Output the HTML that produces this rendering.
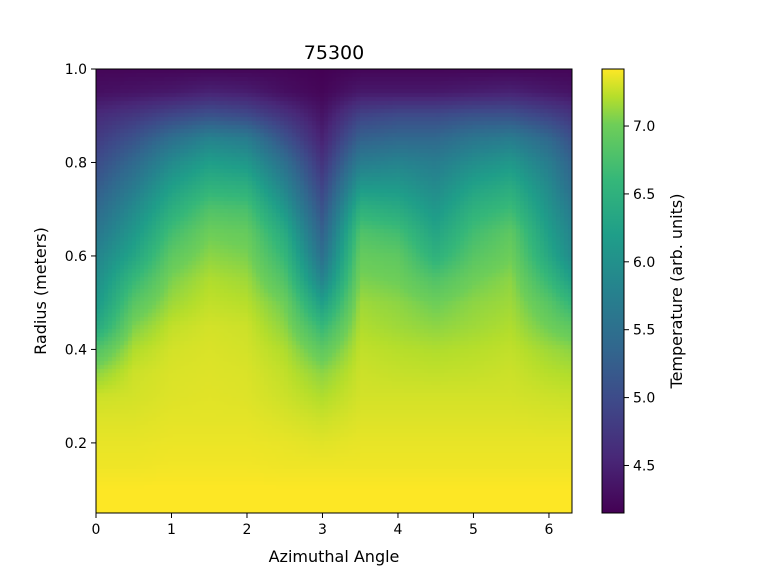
<!DOCTYPE html>
<html><head><meta charset="utf-8"><style>
body{margin:0;background:#fff;}
#wrap{position:relative;width:768px;height:576px;overflow:hidden;font-family:"DejaVu Sans","Liberation Sans",sans-serif;}
#heat{position:absolute;left:96px;top:69px;}
svg{position:absolute;left:0;top:0;}
text{font-family:"DejaVu Sans","Liberation Sans",sans-serif;font-size:14px;fill:#000;}
.big{font-size:16px;}
</style></head><body>
<div id="wrap">
<canvas id="heat" width="476" height="444"></canvas>
<svg width="768" height="576" id="svg">
<defs><linearGradient id="vir" x1="0" y1="1" x2="0" y2="0">
<stop offset="0" stop-color="#440154"/><stop offset="0.125" stop-color="#482878"/><stop offset="0.25" stop-color="#3e4989"/><stop offset="0.375" stop-color="#31688e"/><stop offset="0.5" stop-color="#26828e"/><stop offset="0.625" stop-color="#1f9e89"/><stop offset="0.75" stop-color="#35b779"/><stop offset="0.875" stop-color="#6ece58"/><stop offset="0.9375" stop-color="#b5de2b"/><stop offset="1" stop-color="#fde725"/>
</linearGradient></defs>
<text x="334" y="59" text-anchor="middle" style="font-size:19px">75300</text>
<rect x="96" y="69" width="476" height="444" fill="none" stroke="#000" stroke-width="1"/>
<g id="xt"></g><g id="yt"></g>
<text class="big" x="334" y="562" text-anchor="middle">Azimuthal Angle</text>
<text class="big" transform="translate(46,291) rotate(-90)" text-anchor="middle">Radius (meters)</text>
<rect x="602" y="69" width="22" height="444" fill="url(#vir)" stroke="#000" stroke-width="1"/>
<g id="ct"></g>
<text class="big" transform="translate(682,291) rotate(-90)" text-anchor="middle">Temperature (arb. units)</text>
</svg>
</div>
<script>
const angles=[0,0.5,1.0,1.5,2.0,2.5,3.0,3.5,4.0,4.5,5.0,5.5,6.0,6.28];
const radii=[1.0,0.95,0.9,0.85,0.8,0.75,0.7,0.65,0.6,0.55,0.5,0.45,0.4,0.35,0.3,0.25,0.2,0.15,0.1,0.05];
const temps=[
[4.2,4.3,4.6,4.8,5.0,5.2,5.4,5.6,5.8,5.95,6.1,6.35,6.8,7.1,7.28,7.33,7.36,7.38,7.42,7.42],
[4.2,4.35,4.75,5.1,5.4,5.65,5.9,6.1,6.3,6.6,6.85,7.05,7.2,7.28,7.3,7.33,7.36,7.38,7.42,7.42],
[4.2,4.4,4.95,5.5,5.9,6.2,6.45,6.7,6.9,7.05,7.15,7.25,7.3,7.32,7.33,7.35,7.37,7.39,7.42,7.42],
[4.2,4.5,5.1,5.8,6.2,6.5,6.8,7.0,7.1,7.2,7.25,7.3,7.32,7.33,7.34,7.35,7.37,7.39,7.42,7.42],
[4.2,4.45,5.0,5.7,6.1,6.45,6.75,6.95,7.05,7.15,7.22,7.28,7.3,7.32,7.33,7.35,7.37,7.39,7.42,7.42],
[4.2,4.3,4.7,5.1,5.5,5.8,6.1,6.4,6.6,6.8,7.0,7.1,7.2,7.25,7.28,7.32,7.36,7.38,7.42,7.42],
[4.15,4.2,4.35,4.5,4.7,4.9,5.1,5.3,5.5,5.8,6.2,6.6,6.9,7.1,7.2,7.28,7.34,7.38,7.42,7.42],
[4.2,4.4,4.9,5.3,5.7,6.1,6.5,6.8,6.95,7.05,7.15,7.2,7.25,7.28,7.3,7.33,7.36,7.38,7.42,7.42],
[4.2,4.4,5.0,5.4,5.8,6.1,6.4,6.7,6.9,7.0,7.1,7.15,7.22,7.26,7.3,7.33,7.36,7.38,7.42,7.42],
[4.2,4.4,5.0,5.4,5.7,5.9,6.1,6.3,6.5,6.8,7.0,7.1,7.2,7.25,7.3,7.33,7.36,7.38,7.42,7.42],
[4.2,4.45,5.1,5.6,5.95,6.25,6.5,6.7,6.85,7.0,7.1,7.15,7.22,7.26,7.3,7.33,7.36,7.38,7.42,7.42],
[4.2,4.5,5.1,5.7,6.1,6.4,6.65,6.9,7.0,7.1,7.15,7.2,7.25,7.28,7.3,7.33,7.36,7.38,7.42,7.42],
[4.2,4.4,4.9,5.4,5.7,5.9,6.05,6.2,6.35,6.6,6.85,7.0,7.15,7.22,7.28,7.32,7.36,7.38,7.42,7.42],
[4.2,4.35,4.75,5.1,5.35,5.5,5.7,5.85,5.95,6.25,6.6,6.9,7.1,7.2,7.27,7.32,7.36,7.38,7.42,7.42]];
const xTicks=[0,1,2,3,4,5,6];
const yTicks=[0.2,0.4,0.6,0.8,1.0];
const cTicks=[4.5,5.0,5.5,6.0,6.5,7.0];
const vmin=4.15,vmax=7.42;

const X0=96,X1=571.6,XMAX=6.3,Y0=69,Y1=513,RMIN=0.05,RMAX=1.0;
const xs=v=>X0+v/XMAX*(X1-X0);
const ys=v=>Y1-(v-RMIN)/(RMAX-RMIN)*(Y1-Y0);
const cs=v=>513-(v-vmin)/(vmax-vmin)*444;
const stops=[[0,68,1,84],[0.125,72,40,120],[0.25,62,73,137],[0.375,49,104,142],[0.5,38,130,142],[0.625,31,158,137],[0.75,53,183,121],[0.875,110,206,88],[0.9375,181,222,43],[1,253,231,37]];
function vir(t){t=Math.max(0,Math.min(1,t));for(let i=1;i<stops.length;i++){if(t<=stops[i][0]){const a=stops[i-1],b=stops[i],f=(t-a[0])/(b[0]-a[0]);return [0,1,2].map(k=>Math.round(a[k+1]+f*(b[k+1]-a[k+1])));}}return [253,231,37];}
function interp(arr,v){for(let i=1;i<arr.length;i++){const a=arr[i-1],b=arr[i];if((v-a)*(v-b)<=0){return i-1+(v-a)/(b-a);}}return v<arr[0]===(arr[0]<arr[1])?0:arr.length-1;}
function val(th,r){const fi=interp(angles,th),fj=interp(radii,r);const i=Math.min(Math.floor(fi),angles.length-2),j=Math.min(Math.floor(fj),radii.length-2);const u=fi-i,w=fj-j;return (1-u)*(1-w)*temps[i][j]+u*(1-w)*temps[i+1][j]+(1-u)*w*temps[i][j+1]+u*w*temps[i+1][j+1];}
const cv=document.getElementById('heat'),ctx=cv.getContext('2d');
const B=4;
for(let px=0;px<476;px+=B){for(let py=0;py<444;py+=B){
const th=Math.min(6.28,(px+B/2)/(X1-X0)*XMAX);const r=RMAX-(py+B/2)/(Y1-Y0)*(RMAX-RMIN);
const c=vir((val(th,r)-vmin)/(vmax-vmin));ctx.fillStyle=`rgb(${c[0]},${c[1]},${c[2]})`;ctx.fillRect(px,py,B,B);}}
const NS='http://www.w3.org/2000/svg';
function mk(tag,attrs,parent,txt){const e=document.createElementNS(NS,tag);for(const k in attrs)e.setAttribute(k,attrs[k]);if(txt!==undefined)e.textContent=txt;parent.appendChild(e);return e;}
const xt=document.getElementById('xt'),yt=document.getElementById('yt'),ct=document.getElementById('ct');
xTicks.forEach(v=>{const x=xs(v);
const l=mk('line',{x1:x,x2:x,y1:513,y2:518,stroke:'#000'},xt);


const t=mk('text',{x:x,y:534,'text-anchor':'middle'},xt,String(v));

});
yTicks.forEach(v=>{const y=ys(v);
const l=mk('line',{x1:91,x2:96,y1:y,y2:y,stroke:'#000'},yt);


const t=mk('text',{x:87,y:y+5,'text-anchor':'end'},yt,v.toFixed(1));

});
cTicks.forEach(v=>{const y=cs(v);
const l=mk('line',{x1:624,x2:629,y1:y,y2:y,stroke:'#000'},ct);


const t=mk('text',{x:633,y:y+5,'text-anchor':'start'},ct,v.toFixed(1));

});
</script>
</body></html>
